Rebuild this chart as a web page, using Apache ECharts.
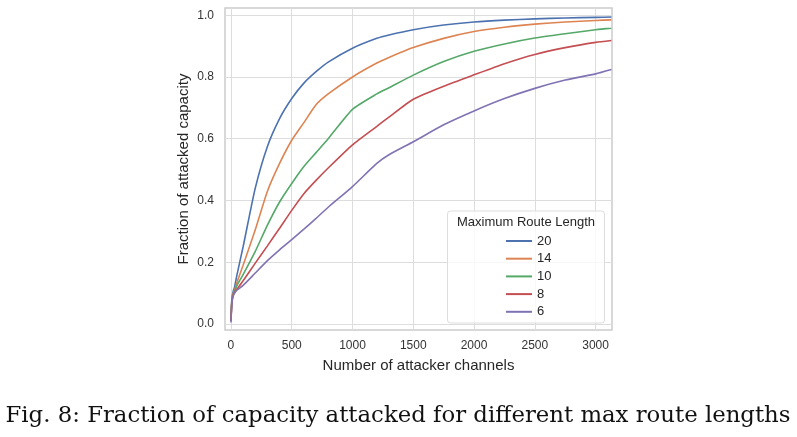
<!DOCTYPE html>
<html><head><meta charset="utf-8">
<script src="https://cdn.jsdelivr.net/npm/echarts@6/dist/echarts.min.js"></script>
<style>html,body{margin:0;padding:0;background:#fff}#c{width:797px;height:437px}</style>
</head><body><div id="c"></div>
<script>
const xs  = [0,5,10,20,30,50,100,200,300,400,500,600,700,800,1000,1200,1300,1500,1750,2000,2250,2500,2750,3000,3130];
const s20 = [0.01,0.065,0.09,0.108,0.12,0.16,0.25,0.44,0.575,0.665,0.73,0.78,0.817,0.848,0.893,0.925,0.936,0.953,0.968,0.978,0.984,0.988,0.991,0.993,0.994];
const s14 = [0.01,0.06,0.085,0.1,0.11,0.135,0.19,0.305,0.43,0.52,0.595,0.652,0.71,0.745,0.80,0.845,0.863,0.895,0.925,0.947,0.961,0.971,0.978,0.983,0.985];
const s10 = [0.01,0.06,0.08,0.097,0.105,0.125,0.16,0.235,0.32,0.395,0.455,0.51,0.555,0.6,0.695,0.745,0.765,0.806,0.85,0.883,0.907,0.926,0.94,0.953,0.958];
const s8  = [0.01,0.055,0.078,0.095,0.102,0.113,0.14,0.197,0.253,0.31,0.368,0.422,0.465,0.505,0.58,0.64,0.67,0.728,0.77,0.807,0.843,0.873,0.895,0.912,0.918];
const s6  = [0.005,0.05,0.075,0.092,0.1,0.11,0.125,0.165,0.205,0.24,0.273,0.307,0.342,0.378,0.445,0.52,0.548,0.59,0.645,0.69,0.73,0.763,0.79,0.81,0.824];
const seriesNames = ['20','14','10','8','6'];
const seriesData = [s20,s14,s10,s8,s6];
const colors = ['#4c72b0','#dd8452','#55a868','#c44e52','#8172b3'];
const xTicks = [0,500,1000,1500,2000,2500,3000];
const yTicks = [0,0.2,0.4,0.6,0.8,1.0];
const xTitle = 'Number of attacker channels';
const yTitle = 'Fraction of attacked capacity';
const legendTitle = 'Maximum Route Length';
const caption = 'Fig. 8: Fraction of capacity attacked for different max route lengths';

const font = 'Liberation Sans, Arial, sans-serif';
const chart = echarts.init(document.getElementById('c'), null, {renderer:'canvas'});
chart.setOption({
  animation:false,
  color: colors,
  grid:{left:225, right:185, top:8, bottom:107, show:true, borderColor:'#cccccc', borderWidth:1.5, backgroundColor:'#fff'},
  xAxis:{type:'value', min:-49, max:3135,
    name:xTitle, nameLocation:'middle', nameGap:28,
    nameTextStyle:{fontFamily:font, fontSize:15, color:'#262626'},
    axisLine:{show:false},
    axisTick:{show:false, customValues:xTicks},
    axisLabel:{customValues:xTicks, fontFamily:font, fontSize:12, color:'#333', margin:10, formatter:v=>String(v)},
    splitLine:{show:true, lineStyle:{color:'#dddddd', width:1}}
  },
  yAxis:{type:'value', min:-0.0195, max:1.0233,
    name:yTitle, nameLocation:'middle', nameGap:34,
    nameTextStyle:{fontFamily:font, fontSize:15, color:'#262626'},
    axisLine:{show:false},
    axisTick:{show:false, customValues:yTicks},
    axisLabel:{customValues:yTicks, fontFamily:font, fontSize:12, color:'#333', margin:11, formatter:v=>v.toFixed(1)},
    splitLine:{show:true, lineStyle:{color:'#dddddd', width:1}}
  },
  legend:{orient:'vertical', left:501, top:229, itemWidth:26, itemHeight:2, itemGap:3.7,
    icon:'rect', data:seriesNames,
    textStyle:{fontFamily:font, fontSize:13, color:'#262626', lineHeight:14}},
  graphic:[
    {type:'rect', shape:{x:447.5, y:211, width:157, height:112, r:3}, style:{fill:'rgba(255,255,255,0.8)', stroke:'#dddddd', lineWidth:1}, z:1},
    {type:'text', x:526, y:222, style:{text:legendTitle, fontFamily:font, fontSize:13, fill:'#262626', textAlign:'center', textVerticalAlign:'middle'}, z:2},
    {type:'text', x:398, y:416, style:{text:caption, fontFamily:'DejaVu Serif, serif', fontSize:22.8, fill:'#111', textAlign:'center', textVerticalAlign:'middle'}, z:2}
  ],
  series: seriesData.map((d,i)=>({
    name:seriesNames[i], type:'line', showSymbol:false, smooth:0.2,
    lineStyle:{width:1.6, color:colors[i]},
    data: xs.map((x,j)=>[x,d[j]])
  }))
});
</script></body></html>
